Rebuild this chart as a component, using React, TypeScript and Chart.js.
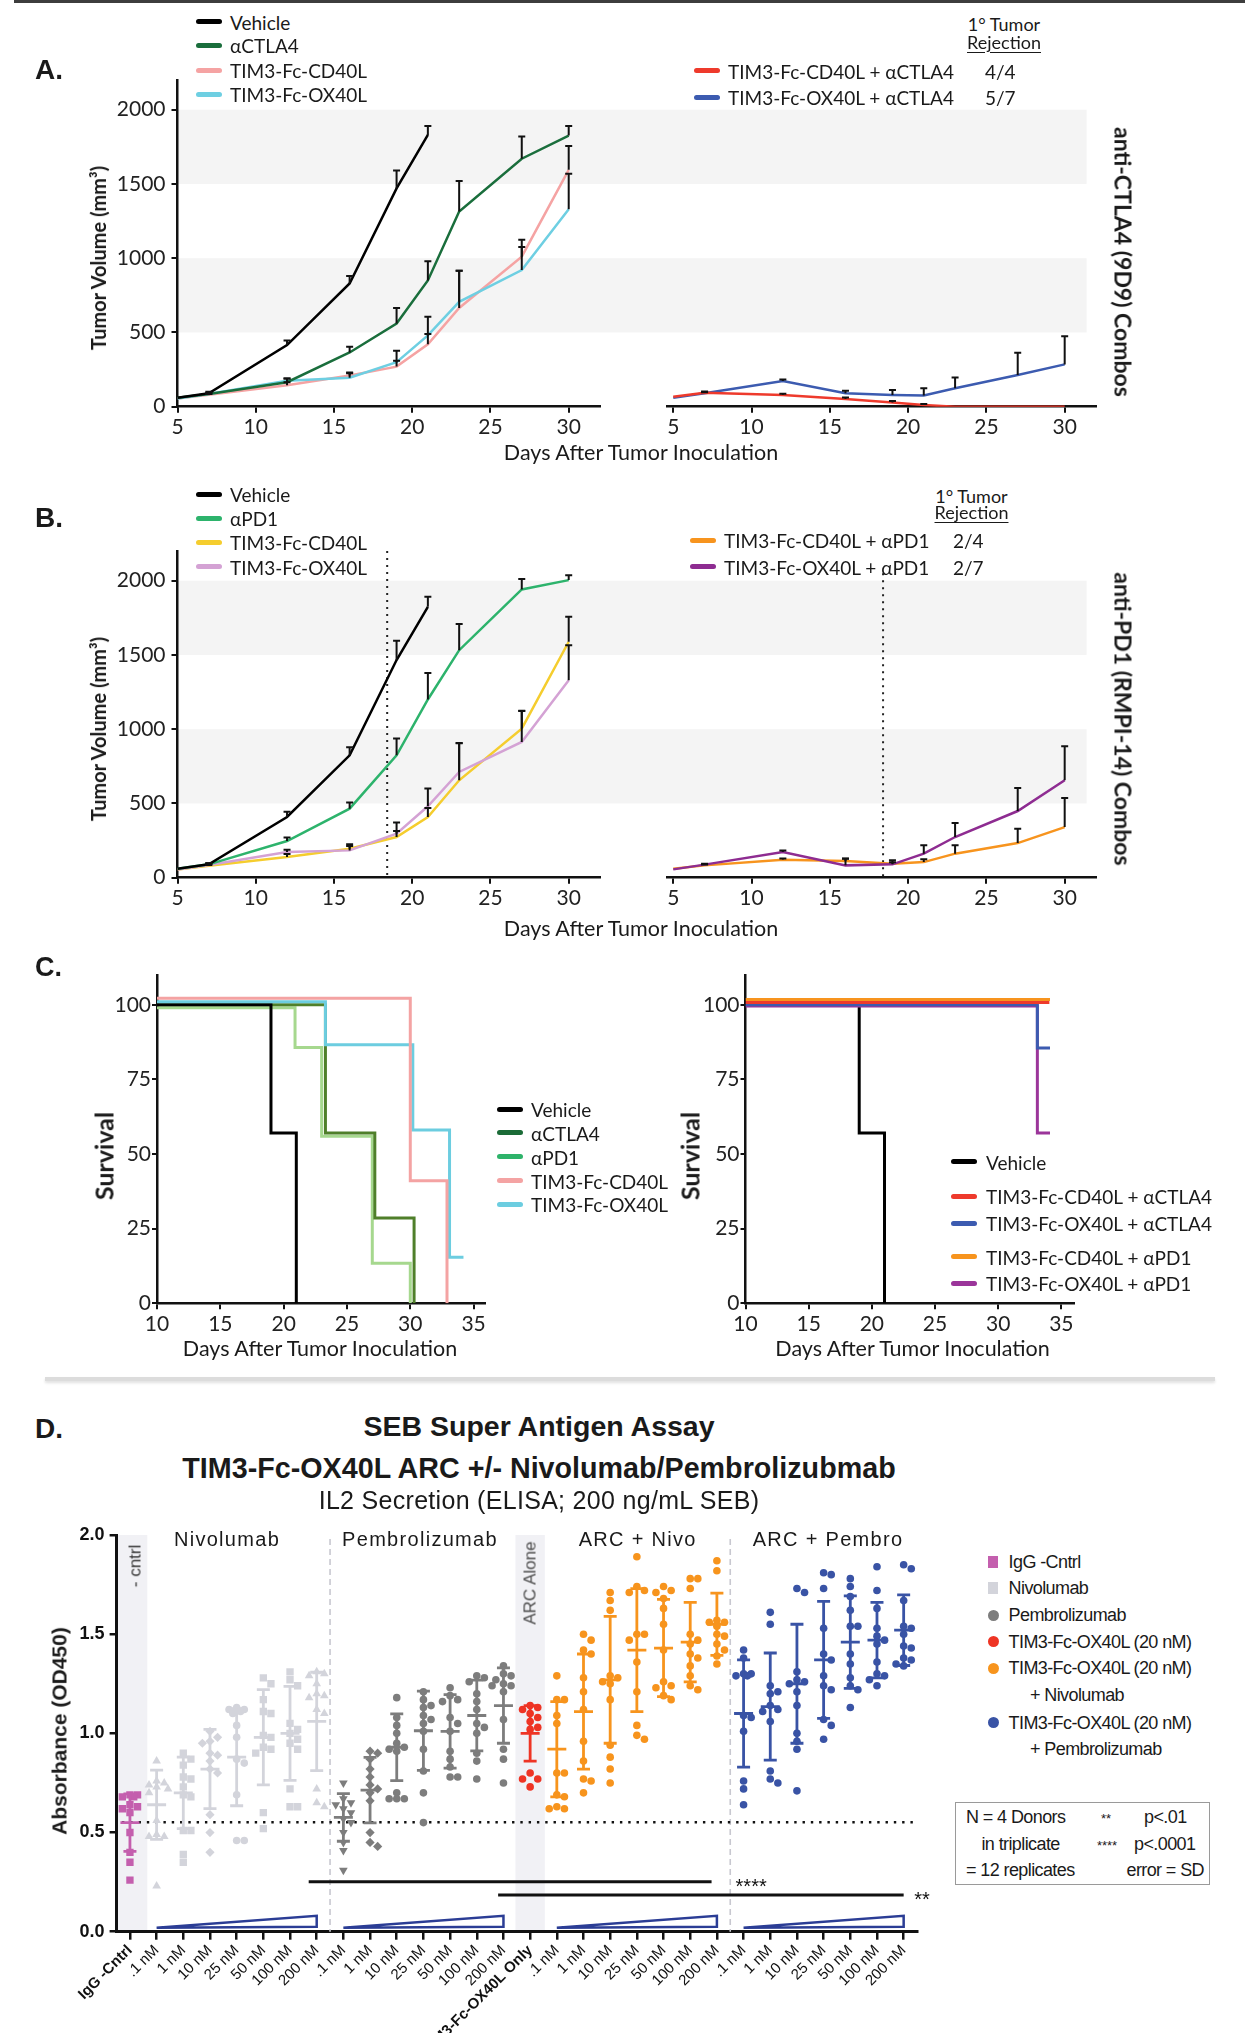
import React, { useEffect, useRef } from 'react';
import { Chart, registerables } from 'chart.js';

Chart.register(...registerables);

const TOP_FONT = 'Lato, "Open Sans", "DejaVu Sans", sans-serif';
const D_FONT = '"Liberation Sans", Arial, Helvetica, sans-serif';

// ================= Panels A & B : tumour growth =================
const daysAll = [5, 7, 12, 16, 19, 21, 23, 27, 30];
const daysVehicle = [5, 7, 12, 16, 19, 21];
const tumorXTicks = [5, 10, 15, 20, 25, 30];
const tumorYTicks = [0, 500, 1000, 1500, 2000];
const greyBandLow = [500, 1500];
const greyBandHigh = [1000, 2000];
const bandEndDay = 31.4;
const dosingDay = 18.4;

const vehicleA = [60, 90, 415, 830, 1470, 1830];
const vehicleAErr = [0, 10, 30, 50, 120, 60];
const ctla4A = [60, 85, 165, 365, 560, 850, 1315, 1670, 1826];
const ctla4AErr = [0, 8, 25, 38, 105, 130, 205, 150, 65];
const cd40lA = [55, 80, 145, 210, 270, 420, 665, 1010, 1595];
const cd40lAErr = [0, 5, 20, 20, 40, 70, 250, 115, 160];
const ox40lA = [55, 85, 175, 195, 300, 480, 706, 920, 1330];
const ox40lAErr = [0, 5, 15, 30, 76, 125, 210, 155, 238];
const cd40lCtla4 = [67, 94, 79, 52, 29, 11, 0, 0, 0];
const cd40lCtla4Err = [0, 8, 8, 10, 10, 8, 0, 0, 0];
const ox40lCtla4 = [60, 90, 173, 90, 79, 76, 124, 213, 285];
const ox40lCtla4Err = [0, 8, 11, 18, 33, 48, 73, 150, 190];

const vehicleB = [60, 90, 409, 824, 1466, 1824];
const vehicleBErr = [0, 8, 35, 55, 130, 68];
const pd1B = [60, 90, 247, 465, 824, 1200, 1532, 1941, 2004];
const pd1BErr = [0, 8, 23, 41, 113, 179, 176, 70, 32];
const cd40lB = [55, 80, 139, 195, 274, 409, 656, 1004, 1589];
const cd40lBErr = [0, 5, 20, 30, 40, 60, 250, 120, 168];
const ox40lB = [55, 85, 173, 184, 297, 481, 712, 914, 1330];
const ox40lBErr = [0, 5, 15, 30, 74, 119, 195, 209, 236];
const cd40lPd1 = [61, 83, 121, 112, 94, 105, 162, 233, 341];
const cd40lPd1Err = [0, 6, 8, 18, 10, 19, 56, 97, 196];
const ox40lPd1 = [56, 88, 173, 83, 90, 162, 274, 449, 656];
const ox40lPd1Err = [0, 6, 11, 45, 27, 56, 94, 155, 229];

// ================= Panel C : survival =================
const survXTicks = [10, 15, 20, 25, 30, 35];
const survYTicks = [0, 25, 50, 75, 100];
const vehSurvDays = [10, 19, 21];
const vehSurv = [100, 57.1, 0];
const ctla4SurvDays = [10, 23.3, 27.2, 30.3];
const ctla4Surv = [100, 57.1, 28.6, 0];
const pd1SurvDays = [10, 20.9, 23, 27, 30];
const pd1Surv = [99, 85.7, 56, 13.4, 0];
const cd40lSurvDays = [10, 30, 32.9];
const cd40lSurv = [102.2, 41.1, 0];
const ox40lSurvDays = [10, 23.3, 30.2, 33.1, 34.2];
const ox40lSurv = [101, 86.6, 58.1, 15.4, 15.4];
const cd40lCtla4SurvDays = [10, 34.05];
const cd40lCtla4Surv = [100.8, 100.8];
const ox40lCtla4SurvDays = [10, 33.1, 34.1];
const ox40lCtla4Surv = [100, 85.5, 85.5];
const cd40lPd1SurvDays = [10, 34.1];
const cd40lPd1Surv = [101.8, 101.8];
const ox40lPd1SurvDays = [10, 33.1, 34.1];
const ox40lPd1Surv = [99.6, 57.1, 57.1];

// ================= Panel D : SEB assay =================
const labelsD = ['IgG -Cntrl', '.1 nM', '1 nM', '10 nM', '25 nM', '50 nM', '100 nM', '200 nM',
  '.1 nM', '1 nM', '10 nM', '25 nM', '50 nM', '100 nM', '200 nM', 'TIM3-Fc-OX40L Only',
  '.1 nM', '1 nM', '10 nM', '25 nM', '50 nM', '100 nM', '200 nM',
  '.1 nM', '1 nM', '10 nM', '25 nM', '50 nM', '100 nM', '200 nM'];
const boldTicksD = [0, 15];
const yTicksD = [0, 0.5, 1.0, 1.5, 2.0];

const iggReps = [[0.69, 0.69, 0.68, 0.68, 0.64, 0.63, 0.62, 0.60, 0.50, 0.40, 0.35, 0.26]];
const nivoReps = [
  [0.86, 0.76, 0.75, 0.74, 0.73, 0.72, 0.70, 0.56, 0.49, 0.48, 0.48, 0.23],
  [0.90, 0.87, 0.84, 0.78, 0.77, 0.73, 0.69, 0.68, 0.51, 0.51, 0.39, 0.35],
  [1.01, 0.98, 0.96, 0.95, 0.90, 0.89, 0.86, 0.82, 0.80, 0.59, 0.50, 0.40],
  [1.13, 1.12, 1.12, 1.11, 1.10, 1.04, 0.98, 0.87, 0.85, 0.69, 0.46, 0.46],
  [1.28, 1.25, 1.17, 1.11, 1.10, 0.99, 0.98, 0.93, 0.92, 0.90, 0.60, 0.52],
  [1.31, 1.27, 1.24, 1.05, 1.02, 1.00, 0.97, 0.95, 0.92, 0.72, 0.63, 0.63],
  [1.31, 1.30, 1.29, 1.25, 1.20, 1.19, 1.18, 1.12, 1.10, 0.72, 0.65, 0.63],
];
const pembroReps = [
  [0.75, 0.67, 0.65, 0.64, 0.62, 0.60, 0.57, 0.55, 0.50, 0.45, 0.41, 0.31],
  [0.91, 0.90, 0.87, 0.82, 0.78, 0.74, 0.72, 0.70, 0.66, 0.50, 0.45, 0.43],
  [1.18, 1.08, 1.04, 1.00, 0.95, 0.93, 0.92, 0.91, 0.70, 0.67, 0.67, 0.67],
  [1.21, 1.17, 1.14, 1.13, 1.09, 1.07, 1.05, 1.01, 0.92, 0.81, 0.70, 0.55],
  [1.23, 1.19, 1.17, 1.16, 1.08, 1.05, 1.01, 0.91, 0.87, 0.83, 0.78, 0.78],
  [1.29, 1.28, 1.26, 1.20, 1.16, 1.12, 1.05, 1.03, 1.00, 0.90, 0.86, 0.77],
  [1.34, 1.30, 1.29, 1.27, 1.25, 1.24, 1.24, 1.21, 1.07, 0.92, 0.87, 0.75],
];
const arcReps = [[1.14, 1.13, 1.12, 1.10, 1.08, 1.06, 1.03, 1.02, 0.80, 0.77, 0.77, 0.73]];
const arcNivoReps = [
  [1.29, 1.17, 1.17, 1.09, 1.05, 0.80, 0.80, 0.69, 0.68, 0.63, 0.62, 0.62],
  [1.50, 1.47, 1.42, 1.40, 1.28, 1.21, 1.12, 0.96, 0.86, 0.77, 0.76, 0.70],
  [1.71, 1.67, 1.62, 1.29, 1.28, 1.26, 1.25, 1.17, 0.94, 0.88, 0.82, 0.75],
  [1.89, 1.74, 1.72, 1.71, 1.50, 1.50, 1.47, 1.36, 1.21, 1.04, 0.99, 0.97],
  [1.74, 1.72, 1.71, 1.68, 1.63, 1.55, 1.42, 1.26, 1.24, 1.23, 1.19, 1.17],
  [1.78, 1.78, 1.73, 1.50, 1.47, 1.45, 1.40, 1.38, 1.34, 1.29, 1.24, 1.22],
  [1.87, 1.82, 1.57, 1.56, 1.56, 1.54, 1.50, 1.49, 1.45, 1.42, 1.39, 1.35],
];
const arcPembroReps = [
  [1.42, 1.38, 1.30, 1.30, 1.29, 1.29, 1.09, 1.08, 1.01, 0.76, 0.72, 0.64],
  [1.61, 1.55, 1.24, 1.21, 1.20, 1.14, 1.12, 1.11, 1.06, 0.81, 0.77, 0.75],
  [1.73, 1.71, 1.31, 1.27, 1.26, 1.25, 1.21, 1.14, 1.00, 0.96, 0.92, 0.71],
  [1.81, 1.80, 1.73, 1.53, 1.40, 1.37, 1.29, 1.24, 1.22, 1.07, 1.04, 0.97],
  [1.78, 1.74, 1.69, 1.62, 1.54, 1.54, 1.40, 1.35, 1.28, 1.24, 1.22, 1.13],
  [1.84, 1.72, 1.63, 1.53, 1.49, 1.47, 1.45, 1.36, 1.30, 1.29, 1.27, 1.24],
  [1.85, 1.83, 1.67, 1.54, 1.53, 1.50, 1.44, 1.43, 1.38, 1.37, 1.35, 1.34],
];
const meanD = [0.55, 0.64, 0.70, 0.82, 0.88, 0.98, 1.00, 1.06, 0.576, 0.714, 0.93, 1.013, 1.01, 1.09, 1.14,
  1.0, 0.92, 1.11, 1.27, 1.42, 1.43, 1.46, 1.55, 1.10, 1.135, 1.25, 1.37, 1.46, 1.47, 1.52];
const sdD = [0.145, 0.175, 0.18, 0.20, 0.245, 0.24, 0.237, 0.248, 0.12, 0.165, 0.168, 0.2, 0.185, 0.178, 0.19,
  0.14, 0.24, 0.29, 0.32, 0.31, 0.245, 0.2, 0.157, 0.27, 0.27, 0.30, 0.295, 0.233, 0.19, 0.178];
const markerD = ['rect', 'triangle', 'rect', 'rectRot', 'circle', 'rect', 'rect', 'triangle',
  'triangle', 'rectRot', 'circle', 'circle', 'circle', 'circle', 'circle', 'circle',
  'circle', 'circle', 'circle', 'circle', 'circle', 'circle', 'circle',
  'circle', 'circle', 'circle', 'circle', 'circle', 'circle', 'circle'];
const COL_IGG = '#c45fae', COL_NIVO = '#d3d4db', COL_PEM = '#7d7d7d', COL_ARC = '#ee3424', COL_AN = '#f7941d', COL_AP = '#3953a5';
const colorD = [COL_IGG, ...Array(7).fill(COL_NIVO), ...Array(7).fill(COL_PEM), COL_ARC, ...Array(7).fill(COL_AN), ...Array(7).fill(COL_AP)];
const shadeFrom = [-0.5, 14.45];
const shadeTo = [0.65, 15.55];
const separatorsD = [7.5, 22.5];
const refLineD = 0.552;
const wedgeStart = [1, 8, 16, 23];
const wedgeEnd = [7, 14, 22, 29];
const wedgeLow = 0.02, wedgeHigh = 0.08, wedgeBase = 0.025;
const sigFrom = [6.7, 13.8];
const sigTo = [21.8, 29.0];
const sigY = [0.252, 0.185];
const sigText = ['****', '**'];
const sigTextAt = [22.7, 29.4];

// ================= helpers =================
const pts = (xs: number[], ys: number[]) => xs.map((x, i) => ({ x, y: ys[i] }));

function series(label: string, xs: number[], ys: number[], errs: number[] | null, color: string, extra: any = {}) {
  return { label, data: pts(xs, ys), errorUp: errs, borderColor: color, backgroundColor: color, borderWidth: 2.5, pointRadius: 0, tension: 0, ...extra };
}

const errorBarPlugin = {
  id: 'errorBars',
  afterDatasetsDraw(chart: any) {
    const { ctx } = chart;
    const ys = chart.scales.y;
    chart.data.datasets.forEach((ds: any, i: number) => {
      if (!ds.errorUp) return;
      const meta = chart.getDatasetMeta(i);
      meta.data.forEach((el: any, j: number) => {
        const e = ds.errorUp[j];
        if (!e) return;
        const y1 = ys.getPixelForValue(ds.data[j].y + e);
        ctx.save();
        ctx.strokeStyle = '#111';
        ctx.lineWidth = 2;
        ctx.beginPath();
        ctx.moveTo(el.x, el.y);
        ctx.lineTo(el.x, y1);
        ctx.moveTo(el.x - 3.5, y1);
        ctx.lineTo(el.x + 3.5, y1);
        ctx.stroke();
        ctx.restore();
      });
    });
  },
};

function bandPlugin(fromEdge: boolean, toValue: number | null) {
  return {
    id: 'bands',
    beforeDraw(chart: any) {
      const { ctx, chartArea } = chart;
      const ys = chart.scales.y, xs = chart.scales.x;
      const x1 = fromEdge ? 0 : chartArea.left;
      const x2 = toValue == null ? chart.width : xs.getPixelForValue(toValue);
      ctx.save();
      ctx.fillStyle = '#f4f4f4';
      greyBandLow.forEach((lo, k) => {
        const t = ys.getPixelForValue(greyBandHigh[k]);
        const b = ys.getPixelForValue(lo);
        ctx.fillRect(x1, t, x2 - x1, b - t);
      });
      ctx.restore();
    },
  };
}

function dosingPlugin(topValue: number) {
  return {
    id: 'dosing',
    beforeDatasetsDraw(chart: any) {
      const { ctx } = chart;
      const x = chart.scales.x.getPixelForValue(dosingDay);
      ctx.save();
      ctx.strokeStyle = '#222';
      ctx.lineWidth = 2;
      ctx.setLineDash([2, 5]);
      ctx.beginPath();
      ctx.moveTo(x, chart.scales.y.getPixelForValue(topValue));
      ctx.lineTo(x, chart.scales.y.getPixelForValue(0));
      ctx.stroke();
      ctx.restore();
    },
  };
}

function axisX(min: number, max: number, ticks: number[], height: number) {
  return {
    type: 'linear', min, max,
    afterBuildTicks: (s: any) => { s.ticks = ticks.map((v) => ({ value: v })); },
    afterFit: (s: any) => { s.height = height; },
    ticks: { font: { family: TOP_FONT, size: 21 }, color: '#222', padding: 2, callback: (v: any) => String(v) },
    grid: { drawOnChartArea: false, tickLength: 6, color: '#111', lineWidth: 2 },
    border: { color: '#111', width: 2.5 },
  };
}

function axisY(show: boolean, min: number, max: number, ticks: number[], width: number, tickLen: number, pad: number) {
  return {
    display: show, min, max,
    afterBuildTicks: (s: any) => { s.ticks = ticks.map((v) => ({ value: v })); },
    afterFit: (s: any) => { if (show) s.width = width; },
    ticks: { font: { family: TOP_FONT, size: 21 }, color: '#222', padding: pad, callback: (v: any) => String(v) },
    grid: { drawOnChartArea: false, tickLength: tickLen, color: '#111', lineWidth: 2 },
    border: { color: '#111', width: 2.5 },
  };
}

function baseOptions(padding: any, scales: any) {
  return {
    animation: false, responsive: false, devicePixelRatio: 1,
    layout: { padding },
    plugins: { legend: { display: false }, tooltip: { enabled: false } },
    scales,
  };
}

function tumorConfig(datasets: any[], left: boolean, dosingTop: number | null) {
  const plugins: any[] = [bandPlugin(!left, left ? null : bandEndDay), errorBarPlugin];
  if (dosingTop != null) plugins.push(dosingPlugin(dosingTop));
  const padding = left ? { left: 0, right: 40, top: 30, bottom: 0 } : { left: 27, right: 14, top: 30, bottom: 0 };
  return {
    type: 'line',
    data: { datasets },
    options: baseOptions(padding, {
      x: axisX(left ? 5 : 4.6, 32, tumorXTicks, 63.3),
      y: axisY(left, 0, 2200, tumorYTicks, 177.5, 6, 6),
    }),
    plugins,
  };
}

function survivalConfig(datasets: any[], yWidth: number, padRight: number, xMax: number) {
  return {
    type: 'line',
    data: { datasets },
    options: baseOptions({ left: 0, right: padRight, top: 25, bottom: 0 }, {
      x: axisX(10, xMax, survXTicks, 66.7),
      y: axisY(true, 0, 110, survYTicks, yWidth, 5, 1),
    }),
  };
}

function swarmOffsets(vals: number[]): number[] {
  const pxX = 26.68, pxY = 198.3, d = 7.2, step = 3.8;
  const order = vals.map((_, i) => i).sort((a, b) => vals[b] - vals[a]);
  const placed: number[][] = [];
  const out = vals.map(() => 0);
  const steps = [0, 1, -1, 2, -2, 3, -3];
  for (const i of order) {
    const py = vals[i] * pxY;
    let best = 0, bestGap = -1;
    for (const s of steps) {
      const px = s * step;
      const gap = placed.reduce((m, q) => Math.min(m, Math.hypot(q[0] - px, q[1] - py)), Infinity);
      if (gap >= d) { best = px; break; }
      if (gap > bestGap) { bestGap = gap; best = px; }
    }
    placed.push([best, py]);
    out[i] = best / pxX;
  }
  return out;
}

const radiusFor = (m: string) => (m === 'circle' ? 3.8 : m === 'rect' ? 5.2 : m === 'triangle' ? 5 : 4.6);

const dotDecorPlugin = {
  id: 'dotDecor',
  beforeDraw(chart: any) {
    const { ctx } = chart;
    const xs = chart.scales.x, ys = chart.scales.y;
    ctx.save();
    ctx.fillStyle = '#f1f1f5';
    shadeFrom.forEach((f, k) => {
      const x1 = xs.getPixelForValue(f), x2 = xs.getPixelForValue(shadeTo[k]);
      const t = ys.getPixelForValue(2.0), b = ys.getPixelForValue(0);
      ctx.fillRect(x1, t, x2 - x1, b - t);
    });
    ctx.restore();
  },
  beforeDatasetsDraw(chart: any) {
    const { ctx } = chart;
    const xs = chart.scales.x, ys = chart.scales.y;
    ctx.save();
    ctx.strokeStyle = '#c8c8d0';
    ctx.lineWidth = 1.6;
    ctx.setLineDash([6, 4]);
    separatorsD.forEach((s) => {
      const x = xs.getPixelForValue(s);
      ctx.beginPath();
      ctx.moveTo(x, ys.getPixelForValue(1.98));
      ctx.lineTo(x, ys.getPixelForValue(0));
      ctx.stroke();
    });
    ctx.strokeStyle = '#111';
    ctx.lineWidth = 2.4;
    ctx.setLineDash([2.4, 5.9]);
    ctx.beginPath();
    ctx.moveTo(xs.getPixelForValue(-0.3), ys.getPixelForValue(refLineD));
    ctx.lineTo(xs.getPixelForValue(29.5), ys.getPixelForValue(refLineD));
    ctx.stroke();
    ctx.setLineDash([]);
    ctx.strokeStyle = '#2b3d95';
    ctx.lineWidth = 2.5;
    wedgeStart.forEach((s, k) => {
      ctx.beginPath();
      ctx.moveTo(xs.getPixelForValue(s), ys.getPixelForValue(wedgeLow));
      ctx.lineTo(xs.getPixelForValue(wedgeEnd[k]), ys.getPixelForValue(wedgeHigh));
      ctx.lineTo(xs.getPixelForValue(wedgeEnd[k]), ys.getPixelForValue(wedgeBase));
      ctx.closePath();
      ctx.stroke();
    });
    ctx.strokeStyle = '#111';
    ctx.fillStyle = '#111';
    ctx.lineWidth = 3;
    ctx.font = `20px ${D_FONT}`;
    ctx.textBaseline = 'alphabetic';
    sigFrom.forEach((f, k) => {
      const y = ys.getPixelForValue(sigY[k]);
      ctx.beginPath();
      ctx.moveTo(xs.getPixelForValue(f), y);
      ctx.lineTo(xs.getPixelForValue(sigTo[k]), y);
      ctx.stroke();
      ctx.fillText(sigText[k], xs.getPixelForValue(sigTextAt[k]), y + 11);
    });
    ctx.restore();
  },
  afterDatasetsDraw(chart: any) {
    const { ctx } = chart;
    const xs = chart.scales.x, ys = chart.scales.y;
    ctx.save();
    ctx.lineWidth = 2.8;
    meanD.forEach((m, g) => {
      const x = xs.getPixelForValue(g);
      const ym = ys.getPixelForValue(m);
      const yt = ys.getPixelForValue(m + sdD[g]);
      const yb = ys.getPixelForValue(m - sdD[g]);
      ctx.strokeStyle = colorD[g];
      ctx.beginPath();
      ctx.moveTo(x - 9.5, ym); ctx.lineTo(x + 9.5, ym);
      ctx.moveTo(x, yt); ctx.lineTo(x, yb);
      ctx.moveTo(x - 6.5, yt); ctx.lineTo(x + 6.5, yt);
      ctx.moveTo(x - 6.5, yb); ctx.lineTo(x + 6.5, yb);
      ctx.stroke();
    });
    ctx.restore();
  },
};

function dotConfig() {
  const groups = [...iggReps, ...nivoReps, ...pembroReps, ...arcReps, ...arcNivoReps, ...arcPembroReps];
  const datasets = groups.map((reps, g) => {
    const offs = swarmOffsets(reps);
    return {
      data: reps.map((v, k) => ({ x: g + offs[k], y: v })),
      showLine: false,
      pointStyle: markerD[g],
      pointRotation: g === 8 ? 180 : 0,
      pointRadius: radiusFor(markerD[g]),
      pointBackgroundColor: colorD[g],
      pointBorderColor: colorD[g],
      pointBorderWidth: 0,
    };
  });
  return {
    type: 'scatter',
    data: { datasets },
    options: baseOptions({ left: 0, right: 23, top: 35, bottom: 0 }, {
      x: {
        type: 'linear', min: -0.5, max: 29.5,
        afterBuildTicks: (s: any) => { s.ticks = labelsD.map((_, i) => ({ value: i })); },
        afterFit: (s: any) => { s.height = 101.3; },
        ticks: {
          autoSkip: false, minRotation: 45, maxRotation: 45, padding: 2, color: '#111',
          callback: (v: any) => labelsD[Math.round(Number(v))],
          font: (c: any) => ({ family: D_FONT, size: 15, weight: boldTicksD.includes(c.index) ? 'bold' : 'normal' }),
        },
        grid: { drawOnChartArea: false, tickLength: 8, color: '#111', lineWidth: 2.5 },
        border: { color: '#111', width: 3 },
      },
      y: {
        min: 0, max: 2,
        afterBuildTicks: (s: any) => { s.ticks = yTicksD.map((v) => ({ value: v })); },
        afterFit: (s: any) => { s.width = 116.6; },
        ticks: { font: { family: D_FONT, size: 18, weight: 'bold' }, color: '#111', padding: 5, callback: (v: any) => Number(v).toFixed(1) },
        grid: { drawOnChartArea: false, tickLength: 7, color: '#111', lineWidth: 2.5 },
        border: { color: '#111', width: 3 },
      },
    }),
    plugins: [dotDecorPlugin],
  };
}

// ================= chart configs =================
const cfgALeft = () => tumorConfig([
  series('Vehicle', daysVehicle, vehicleA, vehicleAErr, '#000'),
  series('αCTLA4', daysAll, ctla4A, ctla4AErr, '#1a6e3c'),
  series('TIM3-Fc-OX40L', daysAll, ox40lA, ox40lAErr, '#6ecfe2'),
  series('TIM3-Fc-CD40L', daysAll, cd40lA, cd40lAErr, '#f5a3a3'),
], true, null);
const cfgARight = () => tumorConfig([
  series('TIM3-Fc-CD40L + αCTLA4', daysAll, cd40lCtla4, cd40lCtla4Err, '#ee3a2c'),
  series('TIM3-Fc-OX40L + αCTLA4', daysAll, ox40lCtla4, ox40lCtla4Err, '#3c5bb0'),
], false, null);
const cfgBLeft = () => tumorConfig([
  series('Vehicle', daysVehicle, vehicleB, vehicleBErr, '#000'),
  series('αPD1', daysAll, pd1B, pd1BErr, '#2db36c'),
  series('TIM3-Fc-OX40L', daysAll, ox40lB, ox40lBErr, '#d4a2d4'),
  series('TIM3-Fc-CD40L', daysAll, cd40lB, cd40lBErr, '#f5cd2e'),
], true, 2200);
const cfgBRight = () => tumorConfig([
  series('TIM3-Fc-OX40L + αPD1', daysAll, ox40lPd1, ox40lPd1Err, '#8e2c91'),
  series('TIM3-Fc-CD40L + αPD1', daysAll, cd40lPd1, cd40lPd1Err, '#f7941e'),
], false, 2050);
const cfgCLeft = () => survivalConfig([
  series('TIM3-Fc-CD40L', cd40lSurvDays, cd40lSurv, null, '#f4a3a3', { stepped: true, borderWidth: 3 }),
  series('TIM3-Fc-OX40L', ox40lSurvDays, ox40lSurv, null, '#6ccde0', { stepped: true, borderWidth: 3 }),
  series('Vehicle', vehSurvDays, vehSurv, null, '#000', { stepped: true, borderWidth: 3 }),
  series('αCTLA4', ctla4SurvDays, ctla4Surv, null, '#4f7f2a', { stepped: true, borderWidth: 3 }),
  series('αPD1', pd1SurvDays, pd1Surv, null, '#a6d88e', { stepped: true, borderWidth: 3 }),
], 157, 35, 35.9);
const cfgCRight = () => survivalConfig([
  series('TIM3-Fc-CD40L + αPD1', cd40lPd1SurvDays, cd40lPd1Surv, null, '#f7941e', { stepped: true, borderWidth: 3 }),
  series('TIM3-Fc-CD40L + αCTLA4', cd40lCtla4SurvDays, cd40lCtla4Surv, null, '#ee3a2c', { stepped: true, borderWidth: 3 }),
  series('TIM3-Fc-OX40L + αCTLA4', ox40lCtla4SurvDays, ox40lCtla4Surv, null, '#3c5bb0', { stepped: true, borderWidth: 3 }),
  series('TIM3-Fc-OX40L + αPD1', ox40lPd1SurvDays, ox40lPd1Surv, null, '#9b359a', { stepped: true, borderWidth: 3 }),
  series('Vehicle', vehSurvDays, vehSurv, null, '#000', { stepped: true, borderWidth: 3 }),
], 185.5, 26, 36);

// ================= components =================
function ChartBox({ x, y, w, h, config }: { x: number; y: number; w: number; h: number; config: () => any }) {
  const ref = useRef<HTMLCanvasElement>(null);
  useEffect(() => {
    const chart = new Chart(ref.current as HTMLCanvasElement, config());
    return () => chart.destroy();
  }, []);
  return <canvas ref={ref} width={w} height={h} style={{ position: 'absolute', left: x, top: y, width: w, height: h }} />;
}

function Txt({ x, y, children, size, bold, font = TOP_FONT, align = 'l', rot = 0, color = '#1a1a1a', ls = 0, ul = false }: any) {
  const tx = align === 'l' ? '0' : align === 'c' ? '-50%' : '-100%';
  return (
    <div style={{
      position: 'absolute', left: x, top: y, transform: `translate(${tx}, -50%) rotate(${rot}deg)`,
      fontFamily: font, fontSize: size, fontWeight: bold ? 700 : 400, color, whiteSpace: 'nowrap',
      lineHeight: 1, letterSpacing: ls, textDecoration: ul ? 'underline' : 'none', textUnderlineOffset: 3,
    }}>{children}</div>
  );
}

function Swatch({ x, y, color, w = 26, h = 5 }: any) {
  return <div style={{ position: 'absolute', left: x, top: y - h / 2, width: w, height: h, background: color, borderRadius: h / 2 }} />;
}

function Legend({ x, y, names, colors, textX, size = 19 }: any) {
  return (
    <>
      {names.map((n: string, i: number) => (
        <React.Fragment key={i}>
          <Swatch x={x} y={y[i]} color={colors[i]} />
          <Txt x={textX} y={y[i]} size={size}>{n}</Txt>
        </React.Fragment>
      ))}
    </>
  );
}

function Marker({ x, y, color, shape }: any) {
  const s = shape === 'sq' ? { width: 10, height: 12, borderRadius: 0 } : { width: 11, height: 11, borderRadius: '50%' };
  return <div style={{ position: 'absolute', left: x - s.width / 2, top: y - s.height / 2, background: color, ...s }} />;
}

export default function App() {
  const B = 470.6;
  return (
    <div style={{ position: 'absolute', left: 0, top: 0, width: 1245, height: 2033, overflow: 'hidden', background: '#fff' }}>
      <div style={{ position: 'absolute', left: 14, top: 0, width: 1231, height: 3, background: '#3d3d3d' }} />

      {/* ---------- A ---------- */}
      <ChartBox x={0} y={50} w={640} h={420} config={cfgALeft} />
      <ChartBox x={640} y={50} w={470} h={420} config={cfgARight} />
      <Txt x={35} y={70} size={28} bold font={D_FONT}>A.</Txt>
      <Legend x={196} textX={230} y={[21.7, 45, 70, 94.3]} names={['Vehicle', 'αCTLA4', 'TIM3-Fc-CD40L', 'TIM3-Fc-OX40L']} colors={['#000', '#1a6e3c', '#f5a3a3', '#6ecfe2']} />
      <Txt x={1004} y={24} size={18} align="c">1° Tumor</Txt>
      <Txt x={1004} y={41.7} size={18} align="c" ul>Rejection</Txt>
      <Legend x={694} textX={728} y={[70.7, 97.3]} names={['TIM3-Fc-CD40L + αCTLA4', 'TIM3-Fc-OX40L + αCTLA4']} colors={['#ee3a2c', '#3c5bb0']} />
      <Txt x={985} y={70.7} size={19}>4/4</Txt>
      <Txt x={985} y={97.3} size={19}>5/7</Txt>
      <Txt x={98} y={258.3} size={20} bold align="c" rot={-90}>Tumor Volume (mm³)</Txt>
      <Txt x={641} y={453} size={21.5} align="c">Days After Tumor Inoculation</Txt>
      <Txt x={1123} y={261.7} size={23} bold align="c" rot={90}>anti-CTLA4 (9D9) Combos</Txt>

      {/* ---------- B ---------- */}
      <ChartBox x={0} y={50 + B} w={640} h={420} config={cfgBLeft} />
      <ChartBox x={640} y={50 + B} w={470} h={420} config={cfgBRight} />
      <Txt x={35} y={518.3} size={28} bold font={D_FONT}>B.</Txt>
      <Legend x={196} textX={230} y={[494.3, 518.3, 542.3, 566.7]} names={['Vehicle', 'αPD1', 'TIM3-Fc-CD40L', 'TIM3-Fc-OX40L']} colors={['#000', '#2db36c', '#f5cd2e', '#d4a2d4']} />
      <Txt x={971.5} y={495.7} size={18} align="c">1° Tumor</Txt>
      <Txt x={971.5} y={512} size={18} align="c" ul>Rejection</Txt>
      <Legend x={690} textX={724} y={[540, 566.7]} names={['TIM3-Fc-CD40L + αPD1', 'TIM3-Fc-OX40L + αPD1']} colors={['#f7941e', '#8e2c91']} />
      <Txt x={953} y={540} size={19}>2/4</Txt>
      <Txt x={953} y={566.7} size={19}>2/7</Txt>
      <Txt x={98} y={729} size={20} bold align="c" rot={-90}>Tumor Volume (mm³)</Txt>
      <Txt x={641} y={929.3} size={21.5} align="c">Days After Tumor Inoculation</Txt>
      <Txt x={1123} y={719} size={23} bold align="c" rot={90}>anti-PD1 (RMPI-14) Combos</Txt>

      {/* ---------- C ---------- */}
      <ChartBox x={0} y={950} w={520} h={420} config={cfgCLeft} />
      <ChartBox x={560} y={950} w={540} h={420} config={cfgCRight} />
      <Txt x={35} y={967} size={27} bold font={D_FONT}>C.</Txt>
      <Txt x={104.3} y={1155.7} size={25} bold align="c" rot={-90}>Survival</Txt>
      <Txt x={689.7} y={1155.7} size={25} bold align="c" rot={-90}>Survival</Txt>
      <Txt x={320} y={1349.3} size={21.5} align="c">Days After Tumor Inoculation</Txt>
      <Txt x={912.5} y={1349.3} size={21.5} align="c">Days After Tumor Inoculation</Txt>
      <Legend x={497} textX={531} y={[1109.3, 1132.7, 1156.7, 1180.7, 1204]} names={['Vehicle', 'αCTLA4', 'αPD1', 'TIM3-Fc-CD40L', 'TIM3-Fc-OX40L']} colors={['#000', '#1b6b37', '#2eb36a', '#f4a3a3', '#6ccde0']} />
      <Legend x={951} textX={986} y={[1161.7, 1196, 1223.3, 1256.7, 1283.3]} names={['Vehicle', 'TIM3-Fc-CD40L + αCTLA4', 'TIM3-Fc-OX40L + αCTLA4', 'TIM3-Fc-CD40L + αPD1', 'TIM3-Fc-OX40L + αPD1']} colors={['#000', '#ee3a2c', '#3c5bb0', '#f7941e', '#9b359a']} />

      <div style={{ position: 'absolute', left: 45, top: 1377, width: 1170, height: 4, background: '#dcdcdc', boxShadow: '0 2px 3px rgba(0,0,0,0.12)' }} />

      {/* ---------- D ---------- */}
      <ChartBox x={0} y={1500} w={940} h={533} config={dotConfig} />
      <Txt x={35} y={1429.3} size={28} bold font={D_FONT}>D.</Txt>
      <Txt x={539} y={1425.6} size={28.5} bold font={D_FONT} align="c">SEB Super Antigen Assay</Txt>
      <Txt x={539} y={1468.3} size={28.7} bold font={D_FONT} align="c">TIM3-Fc-OX40L ARC +/- Nivolumab/Pembrolizubmab</Txt>
      <Txt x={539} y={1500} size={25} font={D_FONT} align="c" ls={0.3}>IL2 Secretion (ELISA; 200 ng/mL SEB)</Txt>
      <Txt x={227} y={1538.7} size={20} font={D_FONT} align="c" ls={1.3}>Nivolumab</Txt>
      <Txt x={420} y={1538.7} size={20} font={D_FONT} align="c" ls={1.3}>Pembrolizumab</Txt>
      <Txt x={637.7} y={1538.7} size={20} font={D_FONT} align="c" ls={1.3}>ARC + Nivo</Txt>
      <Txt x={828} y={1538.7} size={20} font={D_FONT} align="c" ls={1.3}>ARC + Pembro</Txt>
      <Txt x={134.5} y={1565.5} size={17} font={D_FONT} align="c" rot={-90} color="#333">- cntrl</Txt>
      <Txt x={529.6} y={1582.5} size={17} font={D_FONT} align="c" rot={-90} color="#4a4a4a">ARC Alone</Txt>
      <Txt x={59} y={1731} size={21} bold font={D_FONT} align="c" rot={-90}>Absorbance (OD450)</Txt>

      <Marker x={993} y={1561.7} color={COL_IGG} shape="sq" />
      <Marker x={993} y={1588.3} color={COL_NIVO} shape="sq" />
      <Marker x={993} y={1615} color={COL_PEM} />
      <Marker x={993} y={1641.7} color={COL_ARC} />
      <Marker x={993} y={1668.3} color={COL_AN} />
      <Marker x={993} y={1722.7} color={COL_AP} />
      <Txt x={1008.6} y={1561.7} size={18} font={D_FONT} ls={-0.6}>IgG -Cntrl</Txt>
      <Txt x={1008.6} y={1588.3} size={18} font={D_FONT} ls={-0.6}>Nivolumab</Txt>
      <Txt x={1008.6} y={1615} size={18} font={D_FONT} ls={-0.6}>Pembrolizumab</Txt>
      <Txt x={1008.6} y={1641.7} size={18} font={D_FONT} ls={-0.6}>TIM3-Fc-OX40L (20 nM)</Txt>
      <Txt x={1008.6} y={1668.3} size={18} font={D_FONT} ls={-0.6}>TIM3-Fc-OX40L (20 nM)</Txt>
      <Txt x={1030} y={1695} size={18} font={D_FONT} ls={-0.6}>+ Nivolumab</Txt>
      <Txt x={1008.6} y={1722.7} size={18} font={D_FONT} ls={-0.6}>TIM3-Fc-OX40L (20 nM)</Txt>
      <Txt x={1030} y={1749} size={18} font={D_FONT} ls={-0.6}>+ Pembrolizumab</Txt>

      <div style={{ position: 'absolute', left: 955, top: 1802.3, width: 255, height: 82.7, border: '1.5px solid #9a9a9a', boxSizing: 'border-box' }} />
      <Txt x={966} y={1816.7} size={18} font={D_FONT} ls={-0.6}>N = 4 Donors</Txt>
      <Txt x={1020.6} y={1844} size={18} font={D_FONT} ls={-0.6} align="c">in triplicate</Txt>
      <Txt x={966} y={1870} size={18} font={D_FONT} ls={-0.6}>= 12 replicates</Txt>
      <Txt x={1106} y={1818} size={13} font={D_FONT} align="c">**</Txt>
      <Txt x={1107} y={1845} size={13} font={D_FONT} align="c">****</Txt>
      <Txt x={1144} y={1816.7} size={18} font={D_FONT} ls={-0.6}>p&lt;.01</Txt>
      <Txt x={1134} y={1844} size={18} font={D_FONT} ls={-0.6}>p&lt;.0001</Txt>
      <Txt x={1204} y={1870} size={18} font={D_FONT} ls={-0.6} align="r">error = SD</Txt>
    </div>
  );
}
